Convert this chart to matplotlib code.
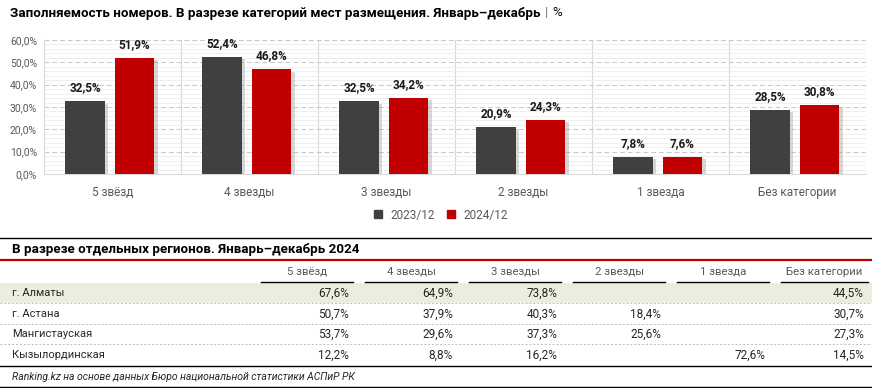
import numpy as np
import matplotlib
matplotlib.use("Agg")
import matplotlib.pyplot as plt
from matplotlib import patheffects as pe
from matplotlib.lines import Line2D
from matplotlib.patches import Rectangle
from matplotlib.text import Annotation

plt.rcParams["font.family"] = ["Roboto", "DejaVu Sans"]

# chart data
categories = ["5 звёзд", "4 звезды", "3 звезды", "2 звезды", "1 звезда", "Без категории"]
vals_2023 = [32.5, 52.4, 32.5, 20.9, 7.8, 28.5]
vals_2024 = [51.9, 46.8, 34.2, 24.3, 7.6, 30.8]
series_names = ["2023/12", "2024/12"]

# table data
regions = ["г. Алматы", "г. Астана", "Мангистауская", "Кызылординская"]
table_vals = [
    ["67,6%", "64,9%", "73,8%", "", "", "44,5%"],
    ["50,7%", "37,9%", "40,3%", "18,4%", "", "30,7%"],
    ["53,7%", "29,6%", "37,3%", "25,6%", "", "27,3%"],
    ["12,2%", "8,8%", "16,2%", "", "72,6%", "14,5%"],
]

W, H = 872, 388
DARK = "#404040"
RED = "#C00000"
GREY_TXT = "#595959"


def fx(x):
    return x / W


def fy(y):
    return 1 - y / H


def fmt(v):
    return f"{v:.1f}".replace(".", ",") + "%"


fig = plt.figure(figsize=(W / 100, H / 100), dpi=100)

# ---- bar chart ----
ax = fig.add_axes([fx(44), fy(174), fx(866) - fx(44), fy(40) - fy(174)])
x = np.arange(len(categories))
off = 0.18
bw = 0.29
shadow = [pe.withSimplePatchShadow(offset=(2.5, -1.5), shadow_rgbFace="#909090", alpha=0.35)]
b1 = ax.bar(x - off - 0.02, vals_2023, bw, color=DARK, zorder=3, path_effects=shadow)
b2 = ax.bar(x + off - 0.02, vals_2024, bw, color=RED, zorder=3, path_effects=shadow)

for bars, vals in [(b1, vals_2023), (b2, vals_2024)]:
    for b, v in zip(bars, vals):
        ax.annotate(fmt(v), (b.get_x() + b.get_width() / 2, v), xytext=(0, 5),
                    textcoords="offset points", ha="center", va="bottom",
                    fontsize=8.5, fontweight="bold", color="#1a1a1a")

ax.set_xlim(-0.5, len(categories) - 0.5)
ax.set_ylim(0, 60)
ax.set_yticks(np.arange(0, 61, 10))
ax.set_yticklabels([f"{v:.1f}".replace(".", ",") + "%" for v in np.arange(0, 61, 10)])
ax.set_yticks(np.arange(0, 61, 2), minor=True)
ax.set_xticks(x)
ax.set_xticklabels(categories)
ax.tick_params(axis="x", length=0, pad=9, labelsize=8.5, labelcolor=GREY_TXT)
ax.tick_params(axis="y", which="both", length=0, pad=5, labelsize=7.5, labelcolor=GREY_TXT)
ax.grid(axis="y", which="minor", color="#ececec", linewidth=0.6, zorder=0)
ax.grid(axis="y", which="major", color="#c8c8c8", linewidth=0.7, linestyle=(0, (5, 3)), zorder=1)
for s in np.arange(0.5, len(categories) - 0.5, 1):
    ax.axvline(s, color="#d9d9d9", linewidth=0.8, zorder=1)
for name in ["top", "right"]:
    ax.spines[name].set_visible(False)
ax.spines["left"].set_color("#d9d9d9")
ax.spines["bottom"].set_color("#d9d9d9")

handles = [Line2D([], [], marker="s", linestyle="", color=DARK, markersize=6),
           Line2D([], [], marker="s", linestyle="", color=RED, markersize=6)]
fig.legend(handles, series_names, loc="center", bbox_to_anchor=(fx(437), fy(215)),
           ncol=2, frameon=False, fontsize=8.5, handletextpad=0.05, columnspacing=0.4,
           labelcolor=GREY_TXT)

# title with grey separator
t1 = fig.text(fx(10), fy(13), "Заполняемость номеров. В разрезе категорий мест размещения. Январь–декабрь",
              fontsize=9.6, fontweight="bold", va="center", ha="left", color="black")
sep = fig.add_artist(Annotation("|", xy=(1, 0.5), xycoords=t1, xytext=(3, 0), textcoords="offset points",
                                va="center", ha="left", fontsize=9.6, color="#7f7f7f"))
fig.add_artist(Annotation("%", xy=(1, 0.5), xycoords=sep, xytext=(3, 0), textcoords="offset points",
                          va="center", ha="left", fontsize=9.6, color="black"))


# ---- table ----
def hline(y, x0=0, x1=W, **kw):
    fig.add_artist(Line2D([fx(x0), fx(x1)], [fy(y), fy(y)], transform=fig.transFigure, **kw))


hline(238, color="black", linewidth=1.0)
fig.text(fx(12), fy(249), "В разрезе отдельных регионов. Январь–декабрь 2024",
         fontsize=9.6, fontweight="bold", va="center", ha="left")
hline(260, color=RED, linewidth=1.6)

col_l = [261, 365, 469, 573, 677, 781]
col_r = [353, 457, 561, 665, 769, 868]
for name, l, r in zip(categories, col_l, col_r):
    fig.text(fx((l + r) / 2), fy(272), name, fontsize=8.2, ha="center", va="center", color=GREY_TXT)
    hline(282, l, r, color="black", linewidth=1.0)

row_y = [293, 314, 334, 355]
fig.add_artist(Rectangle((0, fy(303)), 1, fy(283) - fy(303), transform=fig.transFigure,
                         facecolor="#EBEEDF", edgecolor="none", zorder=0))
for i, (reg, yy) in enumerate(zip(regions, row_y)):
    fig.text(fx(12), fy(yy), reg, fontsize=8, ha="left", va="center", color="#262626")
    for val, r in zip(table_vals[i], col_r):
        if val:
            fig.text(fx(r - 4), fy(yy), val, fontsize=8.5, ha="right", va="center", color="#262626")
    if i < len(regions) - 1:
        hline(yy + 10, color="#bfbfbf", linewidth=0.7, linestyle=(0, (2, 2)))

hline(366, color="black", linewidth=1.0)
fig.text(fx(12), fy(377), "Ranking.kz на основе данных Бюро национальной статистики АСПиР РК",
         fontsize=7.5, style="italic", ha="left", va="center", color="#262626")
hline(387, color="black", linewidth=1.0)

fig.savefig("out.png", dpi=100)
